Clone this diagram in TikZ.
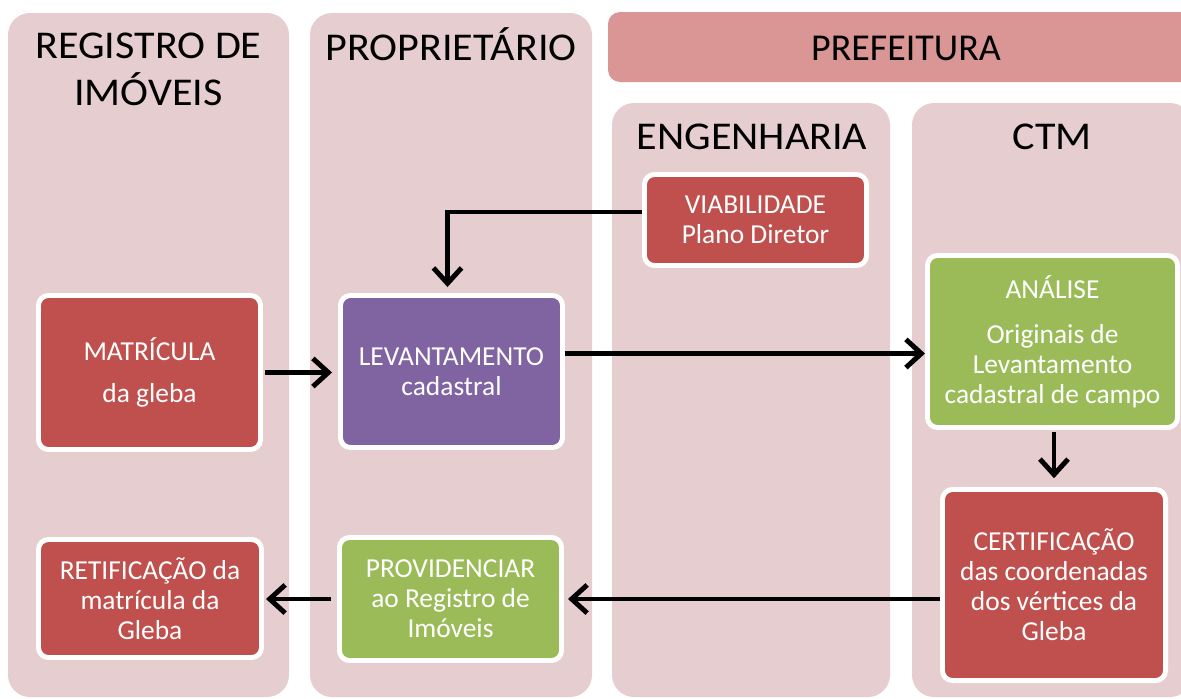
\documentclass[tikz,border=0pt]{standalone}
\usepackage{fontspec}
\setmainfont{Carlito}
\newfontfamily\headfont[FakeStretch=1.07]{Carlito}
\usepackage{xcolor}
\usetikzlibrary{arrows.meta}

\definecolor{lanefill}{RGB}{230,206,208}
\definecolor{barfill}{RGB}{217,150,148}
\definecolor{boxred}{RGB}{192,80,77}
\definecolor{boxpurple}{RGB}{128,100,162}
\definecolor{boxgreen}{RGB}{155,187,89}

\tikzset{
  lane/.style={fill=lanefill, rounded corners=0.55cm},
  head/.style={font=\headfont\fontsize{28}{33}\selectfont, align=center, anchor=base, inner sep=0pt},
  stepbox/.style={draw=white, line width=3.5pt, rounded corners=0.25cm, text=white,
    align=center, inner sep=0pt, font=\fontsize{19.5}{21.3}\selectfont},
  arr/.style={line width=3.5pt, -{Straight Barb[length=11pt,width=20pt]}}
}

\begin{document}
\begin{tikzpicture}[x=0.025cm, y=-0.025cm]
  \useasboundingbox (0,0) rectangle (1181,698);
  \clip (0,0) rectangle (1181,698);

  % swimlanes
  \fill[lane] (8,13) rectangle (289,697);
  \fill[lane] (310,13) rectangle (592,697);
  \fill[barfill, rounded corners=0.3cm] (608,12) rectangle (1215,82);
  \fill[lane] (612,103) rectangle (890,697);
  \fill[lane] (912,103) rectangle (1192,697);

  \node[head] (regtitle) at (148.5,105) {REGISTRO DE\\IMÓVEIS};
  \node[head] (proptitle) at (451,60) {PROPRIETÁRIO};
  \node[head, font=\fontsize{27}{32}\selectfont] (preftitle) at (906,60) {PREFEITURA};
  \node[head] (engtitle) at (752,149) {ENGENHARIA};
  \node[head] (ctmtitle) at (1052,149) {CTM};

  % steps
  \node[stepbox, fill=boxred, minimum width=5.55cm, minimum height=3.85cm] (matricula) at (149.5,372.5) {MATRÍCULA\\[0.32cm]da gleba};
  \node[stepbox, fill=boxpurple, minimum width=5.55cm, minimum height=3.8cm] (lev) at (451.5,371.5) {LEVANTAMENTO\\cadastral};
  \node[stepbox, fill=boxred, minimum width=5.55cm, minimum height=2.275cm] (viab) at (755.5,220) {VIABILIDADE\\Plano Diretor};
  \node[stepbox, fill=boxgreen, minimum width=6.25cm, minimum height=4.3cm] (analise) at (1052.5,341.5) {ANÁLISE\\[0.37cm]Originais de\\Levantamento\\cadastral de campo};
  \node[stepbox, fill=boxred, minimum width=5.575cm, minimum height=4.775cm] (cert) at (1054,585) {CERTIFICAÇÃO\\das coordenadas\\dos vértices da\\Gleba};
  \node[stepbox, fill=boxgreen, minimum width=5.55cm, minimum height=3.075cm] (prov) at (450.5,599) {PROVIDENCIAR\\ao Registro de\\Imóveis};
  \node[stepbox, fill=boxred, minimum width=5.575cm, minimum height=2.95cm] (retif) at (150,598.5) {RETIFICAÇÃO da\\matrícula da\\Gleba};

  % flow
  \draw[arr, shorten >=0.15cm] ([yshift=0.2cm]viab.west) -| ([xshift=-0.1cm]lev.north);
  \draw[arr, shorten <=0.05cm, shorten >=0.15cm] (matricula.east) -- (matricula.east -| lev.west);
  \draw[arr] ([yshift=0.45cm]lev.east) -- ([yshift=0.45cm]lev.east -| analise.west);
  \draw[arr, shorten <=0.05cm, shorten >=0.22cm] (cert.north |- analise.south) -- (cert.north);
  \draw[arr, shorten >=0.1cm] (prov.east -| cert.west) -- (prov.east);
  \draw[arr, shorten <=0.15cm, shorten >=0.05cm] (prov.west) -- (prov.west -| retif.east);
\end{tikzpicture}
\end{document}
